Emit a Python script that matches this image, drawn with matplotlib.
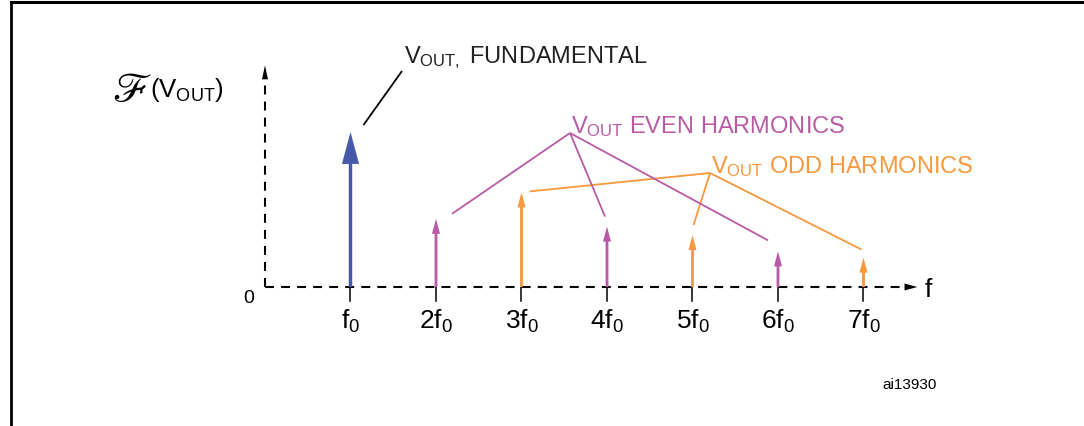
import matplotlib
matplotlib.use('Agg')
import matplotlib.pyplot as plt
from matplotlib.lines import Line2D

plt.rcParams['font.family'] = ['Liberation Sans', 'DejaVu Sans']
plt.rcParams['mathtext.fontset'] = 'custom'
plt.rcParams['mathtext.rm'] = 'Liberation Sans'
plt.rcParams['mathtext.it'] = 'Liberation Sans'

# harmonic number and relative amplitude of each spectral line
harmonics = [1, 2, 3, 4, 5, 6, 7]
amplitudes = [1.0, 0.44, 0.61, 0.39, 0.335, 0.23, 0.19]
kinds = ['fund', 'even', 'odd', 'even', 'odd', 'even', 'odd']
tick_labels = ['f$_0$', '2f$_0$', '3f$_0$', '4f$_0$', '5f$_0$', '6f$_0$', '7f$_0$']

colors = {'fund': '#4659a8', 'even': '#b95aa5', 'odd': '#f7983c'}

W, H = 1084, 427
X0, Y0 = 265, 288      # pixel position of the origin
XU, YU = 85.5, 155     # pixels per harmonic / per unit amplitude

fig = plt.figure(figsize=(W / 100, H / 100), dpi=100)
ax = fig.add_axes([0, 0, 1, 1])
ax.set_xlim(-X0 / XU, (W - X0) / XU)
ax.set_ylim((Y0 - H) / YU, Y0 / YU)
ax.axis('off')


def px(dx, dy):
    # pixel offset -> data offset (dy positive = up)
    return dx / XU, dy / YU


# frame (left and top edges only)
fig.add_artist(Line2D([11 / W, 11 / W], [0, 1 - 3 / H], color='black', lw=2))
fig.add_artist(Line2D([11 / W, 1], [1 - 3 / H, 1 - 3 / H], color='black', lw=2.2))

# dashed axes
x_end = 7.63
y_end = 1.43
dash = (0, (4.3, 3.4))
ax.plot([0, x_end - 0.1], [0, 0], color='black', lw=1.5, linestyle=dash)
ax.plot([0, 0], [0, y_end - 0.05], color='black', lw=1.5, linestyle=dash)
ax.arrow(x_end - 0.15, 0, 0.15, 0, width=0.0, head_width=0.045, head_length=0.15,
         length_includes_head=True, color='black', lw=0)
ax.arrow(0, y_end - 0.09, 0, 0.09, width=0.0, head_width=0.07, head_length=0.09,
         length_includes_head=True, color='black', lw=0)

# spectral lines
for h, a, k in zip(harmonics, amplitudes, kinds):
    if k == 'fund':
        hw, hl, w = 0.2, 0.206, 0.04
    else:
        hw, hl, w = 0.094, 0.097, 0.033
    ax.arrow(h, 0, 0, a, width=w, head_width=hw, head_length=hl,
             length_includes_head=True, color=colors[k], lw=0, zorder=3)
    ax.plot([h, h], [0, -14 / YU], color='black', lw=1.1)

for h, lab in zip(harmonics, tick_labels):
    ax.text(h, -41 / YU, lab, fontsize=19, ha='center', va='baseline')

ax.text(-0.193, -15 / YU, '0', fontsize=14, ha='center', va='baseline')
ax.text(925 / XU - X0 / XU, -9 / YU, 'f', fontsize=19, ha='left', va='baseline')
ax.text((882 - X0) / XU, -101 / YU, 'ai13930', fontsize=11, ha='left', va='baseline')

# y-axis label
ax.text((112 - X0) / XU, (Y0 - 102) / YU, r'$\mathscr{F}$', fontsize=30,
        math_fontfamily='stix', ha='left', va='baseline')
ax.text((150 - X0) / XU, (Y0 - 97) / YU, r'(V$_{\mathrm{OUT}}$)', fontsize=18.5,
        ha='left', va='baseline')

# callout labels
ax.text((404 - X0) / XU, (Y0 - 63) / YU, r'V$_{\mathrm{OUT,}}$ FUNDAMENTAL',
        fontsize=17, ha='left', va='baseline', color='#231f20')
ax.text((571 - X0) / XU, (Y0 - 133) / YU, r'V$_{\mathrm{OUT}}$ EVEN HARMONICS',
        fontsize=17, ha='left', va='baseline', color=colors['even'])
ax.text((711 - X0) / XU, (Y0 - 173) / YU, r'V$_{\mathrm{OUT}}$ ODD HARMONICS',
        fontsize=17, ha='left', va='baseline', color=colors['odd'])

# leader lines: vertex and pixel offsets from each arrow tip
vertices = {'fund': ((402 - X0) / XU, (Y0 - 72) / YU),
            'even': ((570 - X0) / XU, (Y0 - 134) / YU),
            'odd': ((710 - X0) / XU, (Y0 - 174) / YU)}
tip_offsets = [(13, 7), (16, 5), (8, 1), (-2, 10), (1, 10), (-10, 11), (-2, 8)]
for h, a, k, (ox, oy) in zip(harmonics, amplitudes, kinds, tip_offsets):
    dx, dy = px(ox, oy)
    vx, vy = vertices[k]
    ax.plot([vx, h + dx], [vy, a + dy], color='black' if k == 'fund' else colors[k],
            lw=1.3, solid_capstyle='butt')

fig.savefig('out.png', dpi=100)
